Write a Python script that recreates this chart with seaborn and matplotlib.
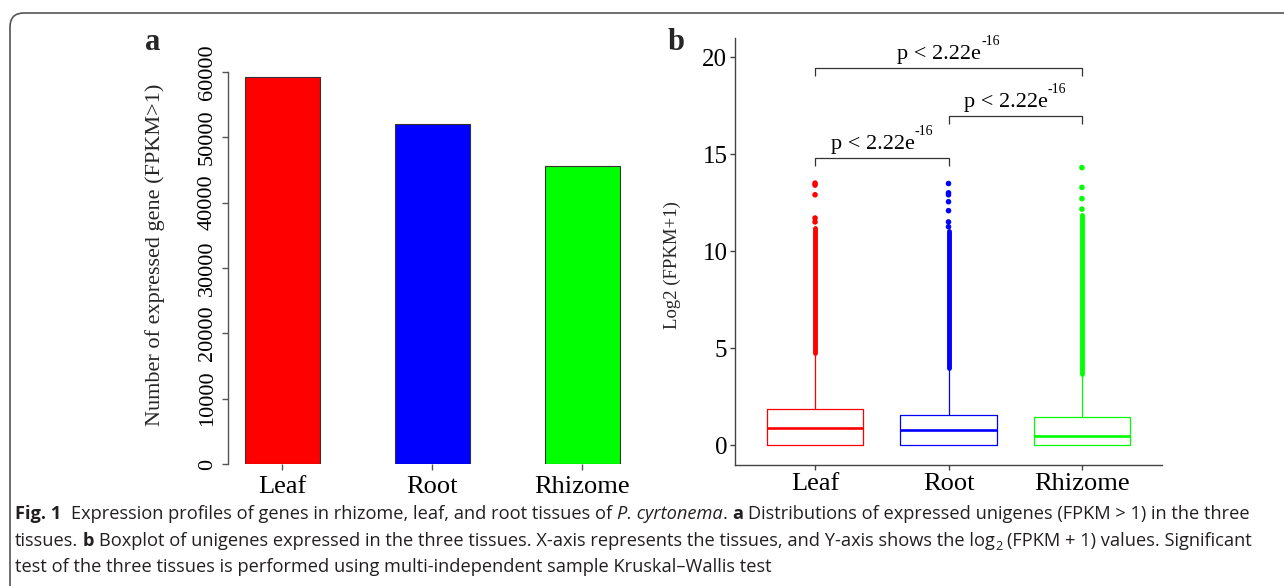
import matplotlib
matplotlib.use("Agg")
import matplotlib.pyplot as plt
from matplotlib.transforms import IdentityTransform
from matplotlib.patches import FancyBboxPatch
from matplotlib import font_manager
import numpy as np
import pandas as pd
import seaborn as sns

# ---------------- data ----------------
tissues = ["Leaf", "Root", "Rhizome"]
colors = ["#FF0000", "#0000FF", "#00FF00"]

# panel a: number of expressed genes (FPKM>1)
expressed_genes = [59200, 52000, 45600]
bar_ticks = [0, 10000, 20000, 30000, 40000, 50000, 60000]

# panel b: box statistics of log2(FPKM+1)
q1 = [0.0, 0.0, 0.0]
median = [0.88, 0.77, 0.46]
q3 = [1.86, 1.55, 1.44]
whisker_lo = [0.0, 0.0, 0.0]
whisker_hi = [4.62, 3.88, 3.58]
# dense band of outliers (range covered by thousands of points)
dense_lo = [4.72, 3.95, 3.65]
dense_hi = [11.2, 11.05, 11.85]
# sparse individual outliers
sparse_out = {
    "Leaf": [11.5, 11.7, 12.9, 13.4, 13.5],
    "Root": [11.25, 11.5, 12.08, 12.54, 12.9, 13.0, 13.48],
    "Rhizome": [12.16, 12.7, 13.28, 14.3],
}
box_ticks = [0, 5, 10, 15, 20]
comparisons = [(0, 1), (1, 2), (0, 2)]
bracket_y = [14.82, 16.97, 19.45]
p_text = "p < 2.22e"
p_exp = "-16"

caption_lines = [
    [("Fig. 1", "bold"), ("  Expression profiles of genes in rhizome, leaf, and root tissues of ", "normal"),
     ("P. cyrtonema", "italic"), (". ", "normal"), ("a", "bold"),
     (" Distributions of expressed unigenes (FPKM > 1) in the three", "normal")],
    [("tissues. ", "normal"), ("b", "bold"),
     (" Boxplot of unigenes expressed in the three tissues. X-axis represents the tissues, and Y-axis shows the log", "normal"),
     ("2", "sub"), (" (FPKM + 1) values. Significant", "normal")],
    [("test of the three tissues is performed using multi-independent sample Kruskal\u2013Wallis test", "normal")],
]

# ---------------- style ----------------
sns.set_theme(style="white")
SERIF = "Liberation Serif"
plt.rcParams["font.family"] = [SERIF, "DejaVu Serif"]
avail = {f.name for f in font_manager.fontManager.ttflist}
CAP_FONT = next(f for f in ["Open Sans", "Noto Sans", "DejaVu Sans"] if f in avail)

W, H = 1284, 586
fig = plt.figure(figsize=(W / 100, H / 100), dpi=100)
fig.patch.set_facecolor("white")


def axes_px(left, top, right, bottom):
    return fig.add_axes([left / W, 1 - bottom / H, (right - left) / W, (bottom - top) / H])


# border (rounded, cropped at right/bottom)
border = FancyBboxPatch((10, -100), 1500, (H - 13) + 100, boxstyle="round,pad=0,rounding_size=14",
                        transform=IdentityTransform(), facecolor="none", edgecolor="#555555", linewidth=1.2)
fig.add_artist(border)

# ---------------- panel a ----------------
ax1 = axes_px(228, 40, 640, 464)
sns.barplot(x=tissues, y=expressed_genes, hue=tissues, palette=colors, legend=False, width=0.5,
            edgecolor="#333333", linewidth=0.8, saturation=1, ax=ax1)
ax1.set_xlim(-0.363, 2.384)
ax1.set_ylim(0, 64900)
ax1.set_yticks(bar_ticks)
ax1.set_yticklabels([str(v) for v in bar_ticks], rotation=90, va="center", fontsize=16, family=SERIF)
ax1.set_xticks(range(len(tissues)))
ax1.set_xticklabels(tissues, fontsize=19, family=SERIF)
for s in ["top", "right", "bottom"]:
    ax1.spines[s].set_visible(False)
ax1.spines["left"].set_bounds(0, 60000)
ax1.spines["left"].set_color("#555555")
ax1.spines["left"].set_linewidth(1.0)
ax1.tick_params(axis="y", left=True, length=4, width=1.0, color="#555555", pad=4, labelcolor="black")
ax1.tick_params(axis="x", bottom=True, length=4, width=1.0, color="#555555", pad=4.5, labelcolor="black")
ax1.set_xlabel("")
ax1.set_ylabel("")
ax1.set_facecolor("none")
fig.text(155 / W, 1 - 255 / H, "Number of expressed gene (FPKM>1)", rotation=90, ha="center", va="center",
         fontsize=16, family=SERIF)
fig.text(153 / W, 1 - 42 / H, "a", ha="center", va="center", fontsize=22, fontweight="bold", family=SERIF)

# ---------------- panel b ----------------
ax2 = axes_px(735, 38, 1162, 465)
df_out = pd.DataFrame([(t, v) for t in tissues for v in sparse_out[t]], columns=["tissue", "value"])
sns.stripplot(data=df_out, x="tissue", y="value", hue="tissue", order=tissues, hue_order=tissues,
              palette=colors, jitter=False, size=4.0, linewidth=0, legend=False, ax=ax2, zorder=3)
for i, t in enumerate(tissues):
    lc = ax2.vlines(i, dense_lo[i], dense_hi[i], colors=colors[i], linewidth=3.5, zorder=3)
    lc.set_capstyle("round")
    stats = [dict(med=median[i], q1=q1[i], q3=q3[i], whislo=whisker_lo[i], whishi=whisker_hi[i], fliers=[])]
    ax2.bxp(stats, positions=[i], widths=0.72, showfliers=False, showcaps=False, manage_ticks=False,
            boxprops=dict(color=colors[i], linewidth=0.9),
            whiskerprops=dict(color=colors[i], linewidth=0.9),
            medianprops=dict(color=colors[i], linewidth=1.9))
ax2.set_xlim(-0.6, 2.6)
ax2.set_ylim(-1.03, 20.98)
ax2.set_yticks(box_ticks)
ax2.set_yticklabels([str(v) for v in box_ticks], fontsize=18, family=SERIF)
ax2.set_xticks(range(len(tissues)))
ax2.set_xticklabels(tissues, fontsize=19, family=SERIF)
for s in ["top", "right"]:
    ax2.spines[s].set_visible(False)
for s in ["left", "bottom"]:
    ax2.spines[s].set_color("#444444")
    ax2.spines[s].set_linewidth(1.0)
ax2.tick_params(axis="both", left=True, bottom=True, length=3.5, width=1.0, color="#444444", pad=2,
                labelcolor="black")
ax2.set_xlabel("")
ax2.set_ylabel("")
ax2.set_facecolor("none")
fig.text(672 / W, 1 - 265 / H, "Log2 (FPKM+1)", rotation=90, ha="center", va="center", fontsize=13.5,
         family=SERIF)
fig.text(676 / W, 1 - 42 / H, "b", ha="center", va="center", fontsize=22, fontweight="bold", family=SERIF)

tick_len = 0.42
for (a, b), yb in zip(comparisons, bracket_y):
    ax2.plot([a, a, b, b], [yb - tick_len, yb, yb, yb - tick_len],
             color="#333333", linewidth=0.9, solid_capstyle="butt")

# ---------------- rich text helper ----------------
renderer = fig.canvas.get_renderer()


def seg_width(s, kw):
    t1 = fig.text(0, 0, "|" + s + "|", **kw)
    t2 = fig.text(0, 0, "||", **kw)
    w = t1.get_window_extent(renderer).width - t2.get_window_extent(renderer).width
    t1.remove()
    t2.remove()
    return w


def draw_rich(x, y, segs, ha="left"):
    widths = [seg_width(s, kw) for s, kw, dy in segs]
    if ha == "center":
        x -= sum(widths) / 2
    for (s, kw, dy), w in zip(segs, widths):
        core = s.lstrip(" ")
        lead = len(s) - len(core)
        off = seg_width(" " * lead, kw) if lead else 0
        core = core.rstrip(" ")
        if core:
            fig.text(x + off, y + dy, core, transform=IdentityTransform(), ha="left", va="baseline", **kw)
        x += w


# p-value labels
for (a, b), yb in zip(comparisons, bracket_y):
    cx, cy = ax2.transData.transform(((a + b) / 2, yb + 0.45))
    segs = [(p_text, dict(fontsize=16, family=SERIF, color="black"), 0),
            (p_exp, dict(fontsize=10, family=SERIF, color="black"), 14)]
    draw_rich(cx, cy, segs, ha="center")


# caption
def cap_kw(kind, size):
    kw = dict(family=CAP_FONT, color="#231f20", fontsize=size)
    if kind == "bold":
        kw["fontweight"] = "bold"
    elif kind == "italic":
        kw["fontstyle"] = "italic"
    elif kind == "sub":
        kw["fontsize"] = size * 0.7
    return kw


base = 10.0
w10 = sum(seg_width(s, cap_kw(k, base)) for s, k in caption_lines[0])
cap_size = base * 1235 / w10
baselines = [513 + 6, 540 + 6, 566 + 6]
for line, yb in zip(caption_lines, baselines):
    segs = [(s, cap_kw(k, cap_size), -4 if k == "sub" else 0) for s, k in line]
    draw_rich(15, H - yb, segs)

fig.savefig("out.png", dpi=100, facecolor="white")
